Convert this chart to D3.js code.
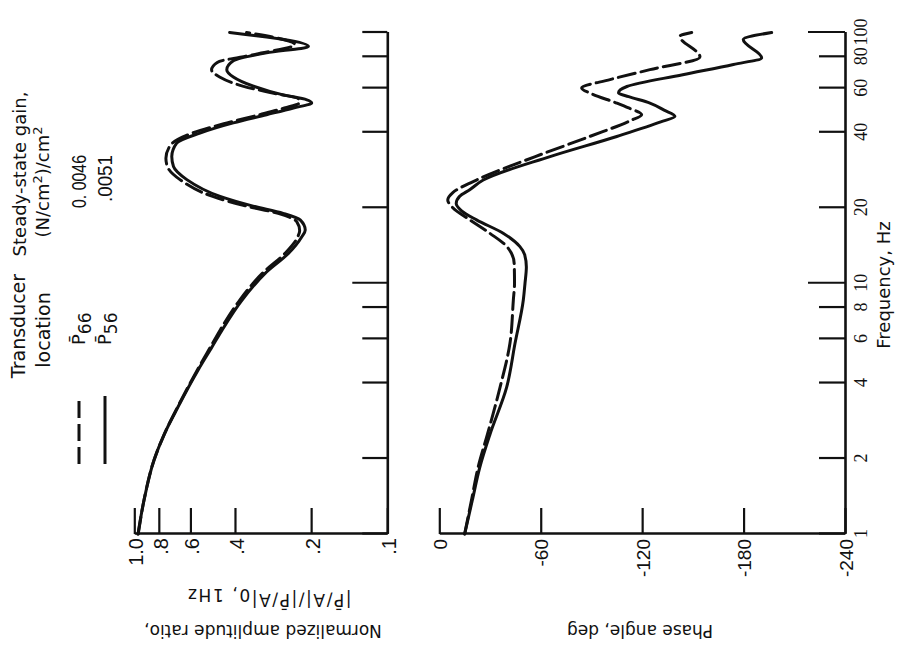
<!DOCTYPE html>
<html>
<head>
<meta charset="utf-8">
<script src="https://cdn.jsdelivr.net/npm/d3@7"></script>
<style>
  html, body { margin: 0; padding: 0; background: #fff; }
  svg { display: block; }
</style>
</head>
<body>
<svg id="chart" width="897" height="647"></svg>
<script>
// ---- Axis ticks ----
const freqTicks = [1, 2, 4, 6, 8, 10, 20, 40, 60, 80, 100];
const freqTickLabels = ["1", "2", "4", "6", "8", "10", "20", "40", "60", "80", "100"];
const ampTicks = [1.0, 0.8, 0.6, 0.4, 0.2, 0.1];
const ampTickLabels = ["1.0", ".8", ".6", ".4", ".2", ".1"];
const phaseTicks = [0, -60, -120, -180, -240];
const phaseTickLabels = ["0", "-60", "-120", "-180", "-240"];

// ---- Normalized amplitude ratio, P56 (solid) ----
const ampFreqP56 = [1, 1.36, 1.97, 2.51, 3.21, 4.5, 5.57, 6.5, 8.57, 10.95, 13.2, 15.3, 16.3, 17.9, 19.0, 20.3, 22.2, 25.9, 29.2, 32, 36.2, 39.7, 43.6, 47, 50, 52.4, 53.9, 56.4, 61.1, 66.5, 71.1, 77.1, 83, 88, 100];
const ampP56 = [0.967, 0.916, 0.836, 0.76, 0.672, 0.56, 0.493, 0.45, 0.375, 0.304, 0.245, 0.218, 0.211, 0.221, 0.258, 0.339, 0.458, 0.62, 0.70, 0.711, 0.68, 0.55, 0.406, 0.30, 0.235, 0.199, 0.208, 0.258, 0.338, 0.406, 0.431, 0.406, 0.30, 0.205, 0.42];

// ---- Normalized amplitude ratio, P66 (dashed) ----
const ampFreqP66 = [1, 1.36, 1.97, 2.51, 3.21, 4.5, 5.57, 6.5, 8.57, 10.95, 13.2, 15.3, 16.2, 17.6, 19.0, 20.3, 22.2, 25.9, 29.2, 31.5, 35.5, 39.7, 43.6, 47, 50, 52.5, 54.5, 57, 61, 66.5, 71, 76, 82, 89.5, 100];
const ampP66 = [0.965, 0.916, 0.836, 0.76, 0.674, 0.564, 0.5, 0.458, 0.383, 0.312, 0.253, 0.226, 0.222, 0.228, 0.27, 0.36, 0.49, 0.66, 0.74, 0.75, 0.72, 0.59, 0.43, 0.32, 0.255, 0.222, 0.225, 0.275, 0.37, 0.46, 0.495, 0.47, 0.33, 0.232, 0.36];

// ---- Phase angle (deg), P56 (solid) ----
const phaseFreqP56 = [1, 1.36, 1.85, 2.5, 3.86, 5.76, 8.57, 10, 11.6, 13, 14, 15.8, 17.9, 19.5, 20.8, 22.2, 23.6, 25.8, 32, 38.5, 44, 46.3, 49, 52.3, 55.5, 57.4, 59, 60.9, 67.9, 74.6, 79.2, 93.7, 100];
const phaseP56 = [-15, -19.5, -24, -30, -39.9, -44.8, -49.7, -50.7, -51.5, -50.5, -47.7, -38, -22, -13, -10, -12, -18, -26, -65.5, -105, -131, -139.4, -133, -124.6, -112, -106, -107, -111, -144, -174, -190.7, -179.8, -196.6];

// ---- Phase angle (deg), P66 (dashed) ----
const phaseFreqP66 = [1, 1.36, 1.85, 2.5, 3.86, 5.76, 8.57, 10, 12, 14, 15.8, 17.9, 20, 21.5, 23, 25.8, 32, 38.5, 44.5, 47, 50, 52.3, 57, 60.1, 64.9, 71.1, 79.9, 96.6, 100];
const phaseP66 = [-15, -19, -23, -28.5, -36, -41.8, -43.8, -44.5, -44.3, -40, -30, -18, -8, -5, -8, -22, -56.8, -89, -113, -119.7, -112, -105, -90, -84.2, -101, -124.6, -154.2, -142.3, -149.3];

// ---- Legend ----
const legendLocations = ["66", "56"];
const legendGains = ["0. 0046", ".0051"];
const legendDash = ["17,6", null];

// The chart is laid out upright (frequency along the horizontal axis,
// two stacked panels) and the whole drawing is turned a quarter turn.
const svg = d3.select("#chart");
const g = svg.append("g").attr("transform", "translate(0,647) rotate(-90)");

const SANS = "'DejaVu Sans', 'Liberation Sans', Arial, sans-serif";
const NUM = "'Liberation Sans', Arial, sans-serif";
const SERIF = "'Liberation Serif', 'Times New Roman', serif";
const INK = "#111";
const DASH = "17,6";

const x = d3.scaleLog().domain([1, 100]).range([113, 614.5]);
const yAmp = d3.scaleLog().domain([0.1, 1]).range([387.3, 134.3]);
const yPh = d3.scaleLinear().domain([-240, 0]).range([845, 439.3]);

function styleAxis(sel, fontFamily, fontSize) {
  sel.attr("font-family", fontFamily).attr("font-size", fontSize);
  sel.select(".domain").attr("stroke", INK).attr("stroke-width", 2.6);
  sel.selectAll(".tick line").attr("stroke", INK).attr("stroke-width", 2.2);
  sel.selectAll(".tick text").attr("fill", INK);
}

// ---- Amplitude panel axes ----
const ampLeft = g.append("g")
  .attr("transform", `translate(${x(1)},0)`)
  .call(d3.axisLeft(yAmp).tickValues(ampTicks).tickSize(-26).tickSizeOuter(0).tickPadding(4)
    .tickFormat((d, i) => ampTickLabels[i]));
styleAxis(ampLeft, NUM, 20);
ampLeft.selectAll(".tick text").attr("dy", "0.42em");

const ampBottom = g.append("g")
  .attr("transform", `translate(0,${yAmp(0.1)})`)
  .call(d3.axisBottom(x).tickValues(freqTicks).tickSize(-25).tickSizeOuter(0).tickFormat(() => ""));
styleAxis(ampBottom, SERIF, 18);
ampBottom.selectAll(".tick line").attr("y2", d => d === 10 ? -35 : -25);

// ---- Phase panel axes ----
const phLeft = g.append("g")
  .attr("transform", `translate(${x(1)},0)`)
  .call(d3.axisLeft(yPh).tickValues(phaseTicks).tickSize(-26).tickSizeOuter(0).tickPadding(5)
    .tickFormat((d, i) => phaseTickLabels[i]));
styleAxis(phLeft, NUM, 19);
phLeft.selectAll(".tick text").attr("dy", "0.38em");

const phBottom = g.append("g")
  .attr("transform", `translate(0,${yPh(-240)})`)
  .call(d3.axisBottom(x).tickValues(freqTicks).tickSize(-26).tickSizeOuter(0).tickPadding(9)
    .tickFormat((d, i) => freqTickLabels[i]));
styleAxis(phBottom, SERIF, 18);
phBottom.selectAll(".tick line").attr("y2", d => (d === 10 || d === 100) ? -37 : -26);

// ---- Curves ----
const ampLine = d3.line().x(d => x(d[0])).y(d => yAmp(d[1])).curve(d3.curveMonotoneX);
const phLine = d3.line().x(d => x(d[0])).y(d => yPh(d[1])).curve(d3.curveMonotoneX);

function drawCurve(gen, fx, fy, dash) {
  g.append("path")
    .datum(d3.zip(fx, fy))
    .attr("d", gen)
    .attr("fill", "none")
    .attr("stroke", INK)
    .attr("stroke-width", 3)
    .attr("stroke-linejoin", "round")
    .attr("stroke-linecap", "round")
    .attr("stroke-dasharray", dash);
}
drawCurve(ampLine, ampFreqP66, ampP66, DASH);
drawCurve(ampLine, ampFreqP56, ampP56, null);
drawCurve(phLine, phaseFreqP66, phaseP66, DASH);
drawCurve(phLine, phaseFreqP56, phaseP56, null);

// ---- Axis titles ----
g.append("text")
  .attr("transform", "translate(22,263) rotate(-90)")
  .attr("text-anchor", "middle")
  .attr("font-family", SANS).attr("font-size", 17).attr("fill", INK)
  .text("Normalized amplitude ratio,");

const t2 = g.append("text")
  .attr("transform", "translate(53,269) rotate(-90)")
  .attr("text-anchor", "middle")
  .attr("font-family", SANS).attr("font-size", 17).attr("fill", INK)
  .attr("letter-spacing", 1.6);
t2.append("tspan").text("|P\u0304/A|/|P\u0304/A|");
t2.append("tspan").attr("dy", 5).text("0, 1Hz");

g.append("text")
  .attr("transform", "translate(22,640) rotate(-90)")
  .attr("text-anchor", "middle")
  .attr("font-family", SANS).attr("font-size", 17).attr("fill", INK)
  .text("Phase angle, deg");

g.append("text")
  .attr("x", 362).attr("y", 890)
  .attr("text-anchor", "middle")
  .attr("font-family", SANS).attr("font-size", 18).attr("fill", INK)
  .text("Frequency, Hz");

// ---- Legend ----
const leg = g.append("g").attr("font-family", SANS).attr("fill", INK);
leg.append("text").attr("x", 321).attr("y", 25).attr("text-anchor", "middle")
  .attr("font-size", 19).text("Transducer");
leg.append("text").attr("x", 317).attr("y", 50).attr("text-anchor", "middle")
  .attr("font-size", 19).text("location");
leg.append("text").attr("x", 473).attr("y", 26).attr("text-anchor", "middle")
  .attr("font-size", 18).text("Steady-state gain,");
const unit = leg.append("text").attr("x", 465).attr("y", 49).attr("text-anchor", "middle")
  .attr("font-size", 18);
unit.append("tspan").text("(N/cm");
unit.append("tspan").attr("dy", -7).attr("font-size", 13).text("2");
unit.append("tspan").attr("dy", 7).text(")/cm");
unit.append("tspan").attr("dy", -7).attr("font-size", 13).text("2");

legendLocations.forEach((loc, i) => {
  const v = 79 + i * 26;
  g.append("line")
    .attr("x1", 183).attr("x2", 251).attr("y1", v).attr("y2", v)
    .attr("stroke", INK).attr("stroke-width", 3)
    .attr("stroke-dasharray", legendDash[i]);
  const t = leg.append("text").attr("x", 302).attr("y", v + 6).attr("font-size", 18);
  t.append("tspan").text("P\u0304");
  t.append("tspan").attr("dy", 6).attr("font-size", 17).text(loc);
  leg.append("text").attr("x", 492).attr("y", v + 7)
    .attr("text-anchor", "end")
    .attr("font-family", NUM).attr("font-size", 20)
    .attr("textLength", i === 0 ? 53 : 47).attr("lengthAdjust", "spacingAndGlyphs")
    .text(legendGains[i]);
});
</script>
</body>
</html>
